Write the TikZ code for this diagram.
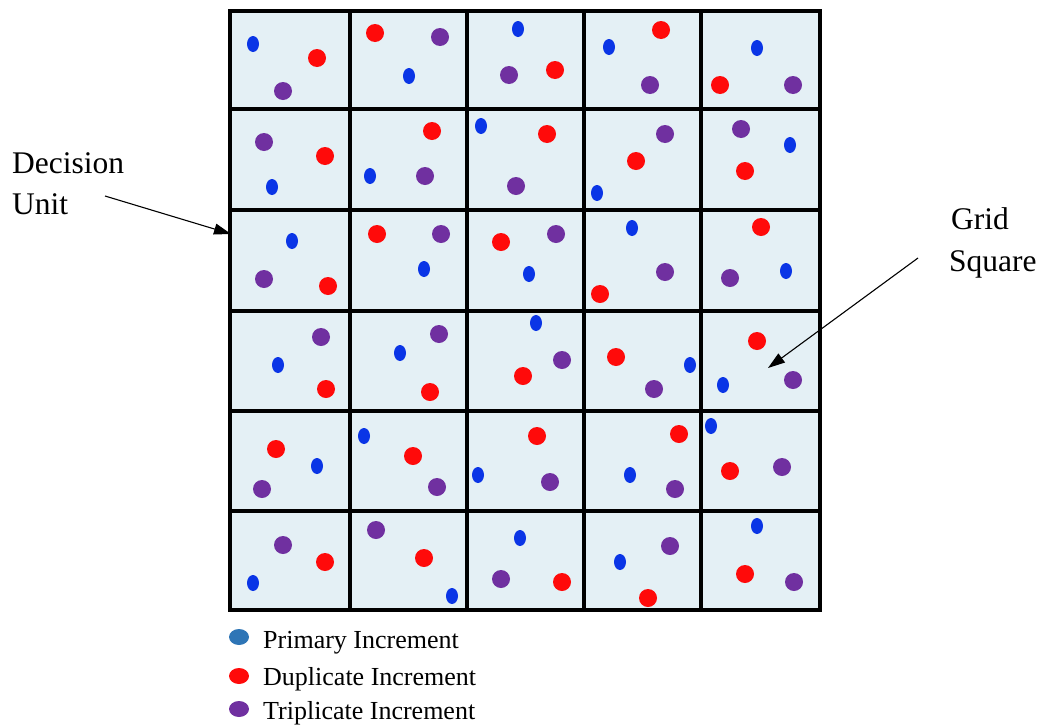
\documentclass[tikz,border=0pt]{standalone}
\usepackage{fontspec}
\setmainfont{Liberation Serif}
\usetikzlibrary{arrows.meta}
\definecolor{cellbg}{HTML}{E4F0F5}
\definecolor{dblue}{HTML}{0A35E6}
\definecolor{dred}{HTML}{FF0A0A}
\definecolor{dpurple}{HTML}{7030A0}
\definecolor{lblue}{HTML}{2E75B6}
\tikzset{
  bd/.style={fill=dblue,draw=none,ellipse,minimum width=12pt,minimum height=16pt,inner sep=0pt},
  rd/.style={fill=dred,draw=none,circle,minimum size=18pt,inner sep=0pt},
  pd/.style={fill=dpurple,draw=none,circle,minimum size=18pt,inner sep=0pt},
  gridline/.style={line width=3.6pt,black},
  lbl/.style={font=\fontsize{31.5}{37}\selectfont,anchor=base west,inner sep=0pt},
  leg/.style={font=\fontsize{26}{30}\selectfont,anchor=west,inner sep=0pt},
  legdot/.style={draw=none,ellipse,minimum width=20pt,minimum height=16pt,inner sep=0pt},
  pointer/.style={line width=1.1pt,-{Triangle[length=17pt,width=11pt]}}
}
\usetikzlibrary{shapes.geometric}
\begin{document}
\begin{tikzpicture}[x=1pt,y=-1pt]
\useasboundingbox (0,0) rectangle (1042,726);
% grid background
\fill[cellbg] (230,11) rectangle (820,610);
% dots row 1
\node[bd] (b11) at (253,44) {}; \node[rd] (r11) at (317,58) {}; \node[pd] (p11) at (283,91) {};
\node[rd] (r12) at (375,33) {}; \node[pd] (p12) at (440,37) {}; \node[bd] (b12) at (409,76) {};
\node[bd] (b13) at (518,29) {}; \node[pd] (p13) at (509,75) {}; \node[rd] (r13) at (555,70) {};
\node[bd] (b14) at (609,47) {}; \node[rd] (r14) at (661,30) {}; \node[pd] (p14) at (650,85) {};
\node[bd] (b15) at (757,48) {}; \node[rd] (r15) at (720,85) {}; \node[pd] (p15) at (793,85) {};
% row 2
\node[pd] (p21) at (264,142) {}; \node[rd] (r21) at (325,156) {}; \node[bd] (b21) at (272,187) {};
\node[rd] (r22) at (432,131) {}; \node[bd] (b22) at (370,176) {}; \node[pd] (p22) at (425,176) {};
\node[bd] (b23) at (481,126) {}; \node[rd] (r23) at (547,134) {}; \node[pd] (p23) at (516,186) {};
\node[pd] (p24) at (665,134) {}; \node[rd] (r24) at (636,161) {}; \node[bd] (b24) at (597,193) {};
\node[pd] (p25) at (741,129) {}; \node[bd] (b25) at (790,145) {}; \node[rd] (r25) at (745,171) {};
% row 3
\node[bd] (b31) at (292,241) {}; \node[pd] (p31) at (264,279) {}; \node[rd] (r31) at (328,286) {};
\node[rd] (r32) at (377,234) {}; \node[pd] (p32) at (441,234) {}; \node[bd] (b32) at (424,269) {};
\node[rd] (r33) at (501,242) {}; \node[pd] (p33) at (556,234) {}; \node[bd] (b33) at (529,274) {};
\node[bd] (b34) at (632,228) {}; \node[pd] (p34) at (665,272) {}; \node[rd] (r34) at (600,294) {};
\node[rd] (r35) at (761,227) {}; \node[bd] (b35) at (786,271) {}; \node[pd] (p35) at (730,278) {};
% row 4
\node[pd] (p41) at (321,337) {}; \node[bd] (b41) at (278,365) {}; \node[rd] (r41) at (326,389) {};
\node[pd] (p42) at (439,334) {}; \node[bd] (b42) at (400,353) {}; \node[rd] (r42) at (430,392) {};
\node[bd] (b43) at (536,323) {}; \node[pd] (p43) at (562,360) {}; \node[rd] (r43) at (523,376) {};
\node[rd] (r44) at (616,357) {}; \node[bd] (b44) at (690,365) {}; \node[pd] (p44) at (654,389) {};
\node[rd] (r45) at (757,341) {}; \node[bd] (b45) at (723,385) {}; \node[pd] (p45) at (793,380) {};
% row 5
\node[rd] (r51) at (276,449) {}; \node[bd] (b51) at (317,466) {}; \node[pd] (p51) at (262,489) {};
\node[bd] (b52) at (364,436) {}; \node[rd] (r52) at (413,456) {}; \node[pd] (p52) at (437,487) {};
\node[rd] (r53) at (537,436) {}; \node[bd] (b53) at (478,475) {}; \node[pd] (p53) at (550,482) {};
\node[rd] (r54) at (679,434) {}; \node[bd] (b54) at (630,475) {}; \node[pd] (p54) at (675,489) {};
\node[bd] (b55) at (711,426) {}; \node[rd] (r55) at (730,471) {}; \node[pd] (p55) at (782,467) {};
% row 6
\node[pd] (p61) at (283,545) {}; \node[rd] (r61) at (325,562) {}; \node[bd] (b61) at (253,583) {};
\node[pd] (p62) at (376,530) {}; \node[rd] (r62) at (424,558) {}; \node[bd] (b62) at (452,596) {};
\node[bd] (b63) at (520,538) {}; \node[pd] (p63) at (501,579) {}; \node[rd] (r63) at (562,582) {};
\node[pd] (p64) at (670,546) {}; \node[bd] (b64) at (620,562) {}; \node[rd] (r64) at (648,598) {};
\node[bd] (b65) at (757,526) {}; \node[rd] (r65) at (745,574) {}; \node[pd] (p65) at (794,582) {};
% grid lines
\foreach \x in {350,467,584,701} \draw[gridline] (\x,11) -- (\x,610);
\foreach \y in {109,210,311,411,511} \draw[gridline] (230,\y) -- (820,\y);
\draw[gridline] (230,11) rectangle (820,610);
% labels
\node[lbl] (dec) at (12,173) {Decision};
\node[lbl] (unit) at (12,214) {Unit};
\node[lbl] (grid) at (951,229) {Grid};
\node[lbl] (square) at (949,271) {Square};
\coordinate (duStart) at (105,196);
\coordinate (duTip) at (231,234);
\coordinate (gsStart) at (918,258);
\coordinate (gsTip) at (768,368);
\draw[pointer] (duStart) -- (duTip);
\draw[pointer] (gsStart) -- (gsTip);
% legend
\node[legdot,fill=lblue] (l1) at (239,637) {};
\node[legdot,fill=dred] (l2) at (239,676) {};
\node[legdot,fill=dpurple] (l3) at (239,709) {};
\node[leg] (t1) at (263,643) {Primary Increment};
\node[leg] (t2) at (263,679) {Duplicate Increment};
\node[leg] (t3) at (263,713) {Triplicate Increment};
\end{tikzpicture}
\end{document}
